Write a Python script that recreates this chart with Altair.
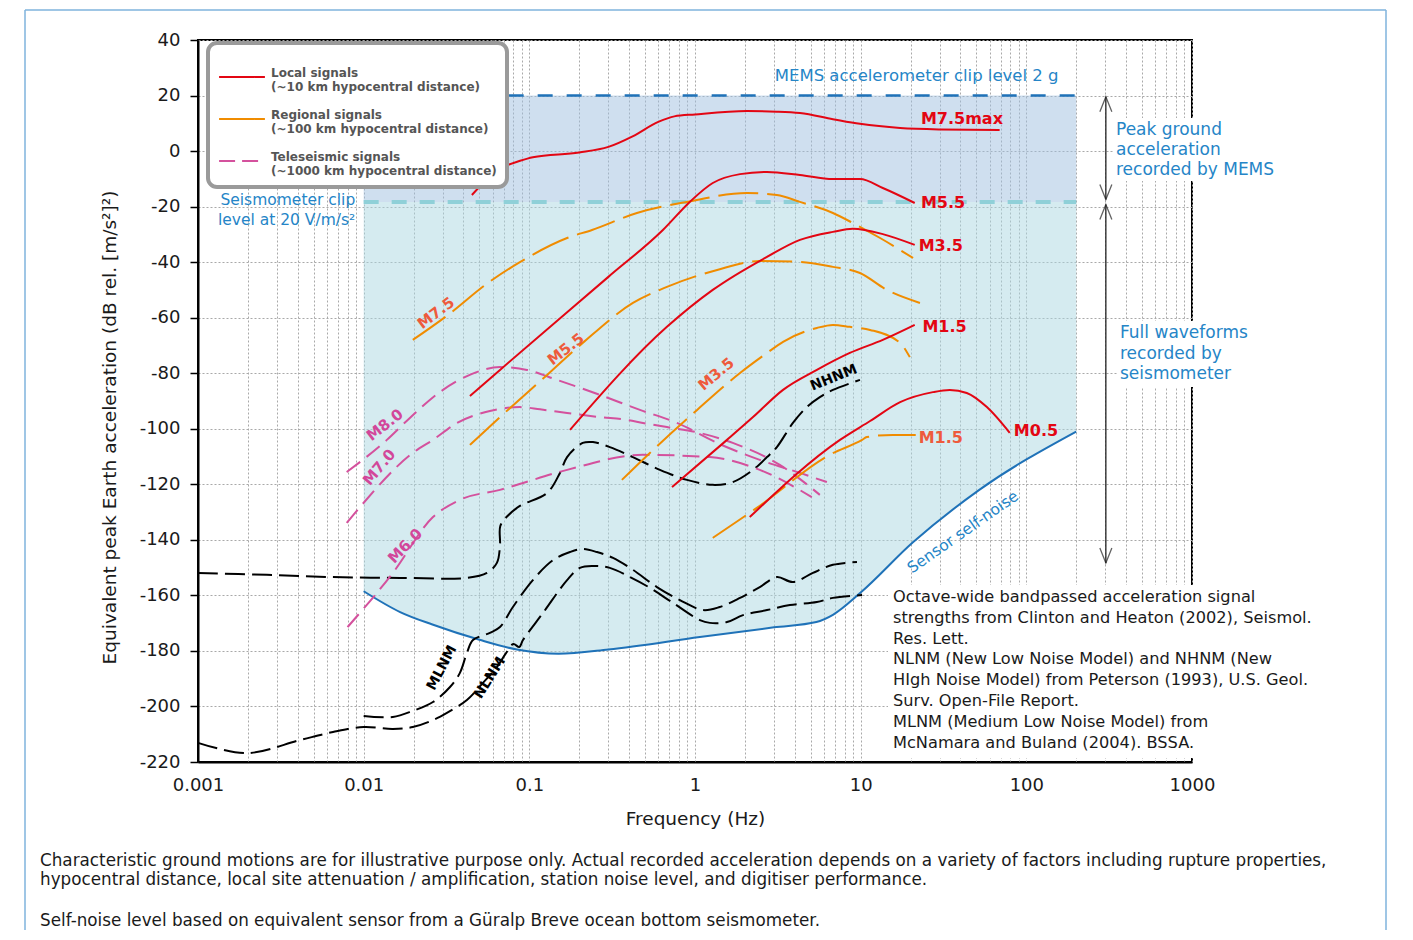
import altair as alt
import pandas as pd

FONT = "DejaVu Sans"

# ---------------- axis ticks ----------------
X_TICKS = [m * 10.0 ** e for e in range(-3, 3) for m in range(1, 10)] + [1000.0]
Y_TICKS = list(range(-220, 41, 10))

# ---------------- reference levels ----------------
BAND_F = [0.01, 200]
MEMS_CLIP_DB = 20
SEIS_CLIP_DB = -18.3

# ---------------- sensor self-noise ----------------
NOISE_F = [0.01, 0.0166, 0.026, 0.05, 0.084, 0.15, 0.3, 1.07, 3.0, 5.4, 6.8, 10, 20.6, 52, 200]
NOISE_DB = [-158.5, -166, -170.5, -176, -179.5, -181, -179.5, -175, -171.5, -169.6, -167, -159, -141, -122, -101]

# ---------------- local signals (~10 km) ----------------
L75_F = [0.045, 0.066, 0.088, 0.105, 0.2, 0.3, 0.42, 0.6, 0.75, 1.0, 2.06, 3.12, 4.3, 6.8, 9.9, 17.3, 30, 69]
L75_DB = [-15.8, -6.5, -3.5, -2.2, -0.5, 1.5, 5.3, 10.5, 12.5, 13.2, 14.4, 14.2, 13.7, 11.5, 9.8, 8.3, 7.8, 7.6]
L55_F = [0.0438, 0.0665, 0.3, 0.64, 0.93, 1.28, 1.87, 2.72, 4.3, 6.8, 9.9, 13.6, 21.2]
L55_DB = [-88.2, -78.8, -45.3, -28.4, -18.3, -11.5, -8.3, -7.5, -8.6, -10.1, -10.1, -13.3, -18.7]
L35_F = [0.176, 0.677, 1.28, 2.72, 4.3, 6.8, 8.97, 13.6, 21.2]
L35_DB = [-100.4, -63.3, -50, -38.1, -32, -29.1, -28, -29.9, -33.8]
L15_F = [0.726, 1.56, 2.24, 3.4, 5.44, 8.6, 13.6, 21.2]
L15_DB = [-121, -104, -95.8, -86, -78.8, -72.7, -68, -62.6]
L05_F = [2.14, 7.5, 11.4, 17.3, 27.3, 34.5, 43.7, 57.8, 79.4]
L05_DB = [-131.8, -104, -97.2, -90.4, -86.8, -86, -87.1, -92.2, -101.5]

# ---------------- regional signals (~100 km) ----------------
R75_F = [0.0198, 0.0323, 0.0562, 0.0877, 0.169, 0.239, 0.446, 0.894, 2.06, 3.12, 4.3, 6.8, 8.97, 13.1, 20.7]
R75_DB = [-68, -59, -47.5, -40, -31.3, -28.4, -22.3, -18.3, -15.1, -15.8, -18.3, -22.3, -25.9, -31.3, -38.5]
R55_F = [0.0438, 0.0665, 0.128, 0.21, 0.422, 0.677, 1.36, 2.46, 4.3, 6.8, 9.9, 14.4, 22.8]
R55_DB = [-105.8, -95.8, -80.6, -69.1, -54.7, -48.9, -42.8, -39.6, -39.9, -41.7, -43.9, -50, -54.7]
R35_F = [0.362, 0.534, 1.03, 1.87, 2.72, 3.4, 5.44, 6.8, 8.6, 11.4, 17.3, 19.8]
R35_DB = [-118.4, -108.7, -93.2, -79.9, -72.7, -68.7, -63.7, -62.6, -63.3, -64.4, -69.1, -74.2]
R15_F = [1.28, 2.36, 6.5, 10.2, 10.9, 15.6, 21.5]
R15_DB = [-139.3, -128.5, -109.4, -104, -103, -102.2, -102.2]

# ---------------- teleseismic signals (~1000 km) ----------------
T80_F = [0.0079, 0.0138, 0.019, 0.0288, 0.0437, 0.0665, 0.0968, 0.147, 0.267, 0.465, 0.778, 1.36, 2.46, 4.3, 6.25]
T80_DB = [-115.6, -104, -96.1, -86.8, -80.6, -77.8, -78.8, -82.4, -87.8, -93.2, -97.9, -105.1, -111.2, -115.9, -119.2]
T70_F = [0.0079, 0.0095, 0.0198, 0.0262, 0.0366, 0.0578, 0.0877, 0.116, 0.169, 0.267, 0.388, 0.485, 0.677, 1.07, 1.69, 3.25, 5.67]
T70_DB = [-133.9, -128.2, -108.7, -104, -97.9, -93.6, -92.2, -93.0, -94.3, -95.8, -96.8, -97.9, -99.4, -101.5, -105.1, -113, -123.8]
T60_F = [0.008, 0.015, 0.0262, 0.0381, 0.0665, 0.169, 0.485, 1.23, 2.46, 5.07]
T60_DB = [-171.4, -151.9, -131.8, -125.6, -122, -114.8, -109.4, -110.2, -114.8, -124.6]

# ---------------- Earth noise models ----------------
NHNM_F = [0.001, 0.0026, 0.0065, 0.0166, 0.042, 0.0555, 0.0637, 0.0665, 0.0668, 0.0733, 0.0877, 0.128, 0.153,
          0.169, 0.21, 0.242, 0.306, 0.422, 0.614, 0.894, 1.28, 1.69, 2.24, 2.72, 3.12, 3.9, 4.73, 5.67, 6.8, 9.9]
NHNM_DB = [-151.9, -152.6, -153.4, -153.7, -153.7, -151.9, -148.3, -142.0, -135.0, -131.6, -127.8, -123.1, -115.9,
           -110.2, -105.1, -104.8, -106.6, -110.2, -114.8, -118.4, -120.2, -119.2, -114.8, -110.2, -106.6, -97.9,
           -92.2, -88.6, -86, -82.4]
MLNM_F = [0.01, 0.015, 0.0198, 0.0262, 0.0332, 0.0381, 0.042, 0.0457, 0.0578, 0.0665, 0.0796, 0.105, 0.139,
          0.176, 0.21, 0.256, 0.32, 0.422, 0.589, 0.811, 1.12, 1.41, 1.87, 2.46, 3.12, 3.9, 5.15, 6.8, 9.5]
MLNM_DB = [-203.4, -203.8, -201.6, -198.4, -193, -187.9, -180.7, -176.1, -173.5, -171.4, -164.2, -154.5, -147.3,
           -144.4, -143.3, -144.4, -146.5, -150.8, -157, -161.7, -165.3, -164.2, -160.9, -157, -153.4, -155.2,
           -151.9, -149, -148]
NLNM_F = [0.001, 0.00198, 0.00413, 0.00653, 0.01, 0.015, 0.0198, 0.0262, 0.0318, 0.042, 0.0525, 0.0637, 0.072,
          0.08, 0.087, 0.0915, 0.121, 0.169, 0.202, 0.242, 0.306, 0.405, 0.535, 0.736, 1.07, 1.23, 1.56, 1.95,
          2.72, 3.74, 5.44, 6.8, 10.2]
NLNM_DB = [-213.1, -216.8, -212.1, -209.2, -207.4, -208.1, -207.4, -204.9, -202.3, -197.7, -191.5, -185.8, -181,
           -177.5, -178.6, -176.1, -166.3, -154.5, -150.1, -149.4, -150.1, -153.4, -157.3, -162.7, -168.9, -169.9,
           -169.6, -167.1, -165.3, -163.5, -162.4, -160.9, -159.9]

# ---------------- legend entries ----------------
GROUPS = ["Local signals|(~10 km hypocentral distance)",
          "Regional signals|(~100 km hypocentral distance)",
          "Teleseismic signals|(~1000 km hypocentral distance)"]

# ---------------- arrows (dB ranges) ----------------
ARROW_F = 302
ARROW_PGA = [19.6, -17.4]
ARROW_FULL = [-19.2, -148.3]

RED = "#e30613"
ORANGE = "#f08c00"
PINK = "#d4519d"
CORAL = "#ee5a3c"
MAGENTA_T = "#d2479a"
BLUE_T = "#2585c7"
BLUE_L = "#1f72b8"
CYAN = "#8fd0d8"

ONE = pd.DataFrame({"k": [0]})

XS = alt.Scale(type="log", domain=[0.001, 1000], nice=False)
YS = alt.Scale(domain=[-220, 40], nice=False, zero=False)
XAX = alt.Axis(
    values=X_TICKS,
    labelExpr="abs(log(datum.value)/LN10 - round(log(datum.value)/LN10)) < 0.001 ? "
              "(datum.value < 1 ? format(datum.value, '.3~f') : format(datum.value, 'd')) : ''",
    labelOverlap=False, labelFlush=False, ticks=False, labelPadding=14, titlePadding=15,
)
YAX = alt.Axis(
    values=Y_TICKS,
    labelExpr="datum.value % 20 == 0 ? '' + datum.value : ''",
    labelOverlap=False, tickSize=8, labelPadding=10, titlePadding=20, titleY=387,
)
XT = "Frequency (Hz)"
YT = "Equivalent peak Earth acceleration (dB rel. [m/s²]²)"


def X(field):
    return alt.X(field, type="quantitative", scale=XS, axis=XAX, title=XT)


def Y(field):
    return alt.Y(field, type="quantitative", scale=YS, axis=YAX, title=YT)


def curves(pairs):
    frames = []
    for name, f, db in pairs:
        frames.append(pd.DataFrame({"f": f, "db": db, "curve": name, "i": list(range(len(f)))}))
    return pd.concat(frames, ignore_index=True)


def line_layer(df, color, dash=None, width=2, interp="monotone"):
    kw = dict(color=color, strokeWidth=width, interpolate=interp)
    if dash:
        kw["strokeDash"] = dash
    return alt.Chart(df).mark_line(**kw).encode(
        x=X("f"), y=Y("db"), detail="curve:N", order="i:Q")


def note(text, f, db, color, size, weight="normal", angle=0, align="left", baseline="middle", lh=None):
    kw = dict(text=text, color=color, font=FONT, fontSize=size, fontWeight=weight, align=align, baseline=baseline)
    if angle:
        kw["angle"] = angle
    if lh:
        kw["lineHeight"] = lh
    return alt.Chart(ONE).mark_text(**kw).encode(x=alt.datum(f), y=alt.datum(db))


def note_px(text, x, y, color, size, weight="normal", align="left", baseline="alphabetic", lh=None):
    kw = dict(text=text, color=color, font=FONT, fontSize=size, fontWeight=weight, align=align, baseline=baseline)
    if lh:
        kw["lineHeight"] = lh
    return alt.Chart(ONE).mark_text(**kw).encode(x=alt.value(x), y=alt.value(y))


def box_px(x1, x2, y1, y2):
    return alt.Chart(ONE).mark_rect(color="white").encode(
        x=alt.value(x1), x2=alt.value(x2), y=alt.value(y1), y2=alt.value(y2))


layers = []

# shaded recording bands
band_df = pd.DataFrame({"f1": [BAND_F[0]], "f2": [BAND_F[1]], "lo": [SEIS_CLIP_DB], "hi": [MEMS_CLIP_DB]})
layers.append(alt.Chart(band_df).mark_rect(color="#9fbfe0", opacity=0.5).encode(
    x=X("f1"), x2="f2", y=Y("lo"), y2="hi"))
noise_df = pd.DataFrame({"f": NOISE_F, "db": NOISE_DB, "top": SEIS_CLIP_DB})
layers.append(alt.Chart(noise_df).mark_area(color="#abd7e1", opacity=0.5, interpolate="monotone").encode(
    x=X("f"), y=Y("db"), y2="top"))

# clip levels
clip_df = pd.DataFrame({"f1": [BAND_F[0]], "f2": [BAND_F[1]], "mems": [MEMS_CLIP_DB], "seis": [SEIS_CLIP_DB]})
layers.append(alt.Chart(clip_df).mark_rule(color=CYAN, strokeWidth=4, strokeDash=[15, 13]).encode(
    x=X("f1"), x2="f2", y=Y("seis")))
layers.append(alt.Chart(clip_df).mark_rule(color=BLUE_L, strokeWidth=2.5, strokeDash=[15, 14]).encode(
    x=X("f1"), x2="f2", y=Y("mems")))

# self-noise line
layers.append(line_layer(curves([("noise", NOISE_F, NOISE_DB)]), BLUE_L, width=2))

# Earth noise models
layers.append(line_layer(curves([("NHNM", NHNM_F, NHNM_DB), ("MLNM", MLNM_F, MLNM_DB), ("NLNM", NLNM_F, NLNM_DB)]),
                         "black", dash=[20, 7], width=2, interp="catmull-rom"))

# teleseismic
layers.append(line_layer(curves([("T80", T80_F, T80_DB), ("T70", T70_F, T70_DB), ("T60", T60_F, T60_DB)]),
                         PINK, dash=[17, 8], width=2))
# regional
layers.append(line_layer(curves([("R75", R75_F, R75_DB), ("R55", R55_F, R55_DB), ("R35", R35_F, R35_DB),
                                 ("R15", R15_F, R15_DB)]), ORANGE, dash=[40, 9], width=2))
# local
layers.append(line_layer(curves([("L75", L75_F, L75_DB), ("L55", L55_F, L55_DB), ("L35", L35_F, L35_DB),
                                 ("L15", L15_F, L15_DB), ("L05", L05_F, L05_DB)]), RED, width=2))

# arrows on the right
arrow_df = pd.DataFrame({"f": [ARROW_F, ARROW_F], "a": [ARROW_PGA[0], ARROW_FULL[0]], "b": [ARROW_PGA[1], ARROW_FULL[1]]})
layers.append(alt.Chart(arrow_df).mark_rule(color="#222", strokeWidth=1.3).encode(x=X("f"), y=Y("a"), y2="b"))
layers.append(alt.Chart(arrow_df).mark_point(shape="M-0.4,1L0,0L0.4,1", size=900, filled=False, color="#222",
                                             strokeWidth=1.3).encode(x=X("f"), y=Y("a")))
layers.append(alt.Chart(arrow_df).mark_point(shape="M-0.4,-1L0,0L0.4,-1", size=900, filled=False, color="#222",
                                             strokeWidth=1.3).encode(x=X("f"), y=Y("b")))

# white boxes behind side texts
layers.append(box_px(915, 1084, 78, 141))
layers.append(box_px(919, 1050, 281, 347))
layers.append(box_px(690, 1125, 545, 718))

# curve labels
layers += [
    note("M7.5max", 23.1, 9.8, RED, 16, "bold", baseline="alphabetic"),
    note("M5.5", 23.1, -20.5, RED, 16, "bold", baseline="alphabetic"),
    note("M3.5", 22.4, -36, RED, 16, "bold", baseline="alphabetic"),
    note("M1.5", 23.6, -65.1, RED, 16, "bold", baseline="alphabetic"),
    note("M0.5", 84.1, -102.6, RED, 16, "bold", baseline="alphabetic"),
    note("M1.5", 22.4, -105.1, CORAL, 16, "bold", baseline="alphabetic"),
    note("M7.5", 0.0273, -58.3, CORAL, 15, "bold", angle=323, align="center"),
    note("M5.5", 0.166, -71.3, CORAL, 15, "bold", angle=322, align="center"),
    note("M3.5", 1.34, -80.3, CORAL, 15, "bold", angle=320, align="center"),
    note("M8.0", 0.0134, -98.6, MAGENTA_T, 15, "bold", angle=322, align="center"),
    note("M7.0", 0.0124, -113.8, MAGENTA_T, 15, "bold", angle=310, align="center"),
    note("M6.0", 0.0178, -142.2, MAGENTA_T, 15, "bold", angle=314, align="center"),
    note("NHNM", 6.89, -81.7, "black", 14, "bold", angle=338, align="center"),
    note("MLNM", 0.0297, -186.1, "black", 14, "bold", angle=298, align="center"),
    note("NLNM", 0.0578, -189.7, "black", 14, "bold", angle=302, align="center"),
    note("Sensor self-noise", 41.4, -137.2, BLUE_T, 15.5, angle=325, align="center"),
    note("MEMS accelerometer clip level 2 g", 3.03, 25.2, BLUE_T, 16.5, baseline="alphabetic"),
    note(["Seismometer clip", "level at 20 V/m/s²"], 0.0089, -19.4, BLUE_T, 15.5, align="right",
         baseline="alphabetic", lh=20),
]

# side texts (pixel positions relative to the plot area)
layers += [
    note_px(["Peak ground", "acceleration", "recorded by MEMS"], 918, 95, BLUE_T, 17, lh=20),
    note_px(["Full waveforms", "recorded by", "seismometer"], 922, 298, BLUE_T, 17, lh=20.5),
    note_px(["Octave-wide bandpassed acceleration signal",
             "strengths from Clinton and Heaton (2002), Seismol.",
             "Res. Lett.",
             "NLNM (New Low Noise Model) and NHNM (New",
             "HIgh Noise Model) from Peterson (1993), U.S. Geol.",
             "Surv. Open-File Report.",
             "MLNM (Medium Low Noise Model) from",
             "McNamara and Buland (2004). BSSA."], 695, 562, "#1a1a1a", 16.2, lh=20.8),
    note_px(["Characteristic ground motions are for illustrative purpose only. Actual recorded acceleration depends "
             "on a variety of factors including rupture properties,",
             "hypocentral distance, local site attenuation / amplification, station noise level, and digitiser "
             "performance."], -158, 826, "#1a1a1a", 16.8, lh=19),
    note_px("Self-noise level based on equivalent sensor from a Güralp Breve ocean bottom seismometer.",
            -158, 886, "#1a1a1a", 16.8),
]

# outer frame
FRAME = "#7fb3dc"
layers += [
    alt.Chart(ONE).mark_rule(color=FRAME, strokeWidth=1.5).encode(x=alt.value(-173), y=alt.value(-30), y2=alt.value(950)),
    alt.Chart(ONE).mark_rule(color=FRAME, strokeWidth=1.5).encode(x=alt.value(1188), y=alt.value(-30), y2=alt.value(950)),
    alt.Chart(ONE).mark_rule(color=FRAME, strokeWidth=1.5).encode(x=alt.value(-173), x2=alt.value(1188), y=alt.value(-30)),
]

# legend carrier
LEG = alt.Legend(title=None, orient="none", legendX=10, legendY=3, labelExpr="split(datum.label, '|')",
                 fillColor="white", strokeColor="#9a9a9a", cornerRadius=9, padding=10,
                 symbolType="stroke", symbolSize=2100, symbolStrokeWidth=2,
                 labelFont=FONT, labelFontSize=12, labelFontWeight="bold", labelColor="#555555",
                 labelLimit=600, labelBaseline="alphabetic", rowPadding=2, labelOffset=5, zindex=1)
leg_df = pd.DataFrame({"group": GROUPS, "f": [0.0015] * 3, "db": [30] * 3})
layers.append(alt.Chart(leg_df).mark_line(strokeWidth=2).encode(
    x=X("f"), y=Y("db"),
    color=alt.Color("group:N", scale=alt.Scale(domain=GROUPS, range=[RED, ORANGE, PINK]), legend=LEG),
    strokeDash=alt.StrokeDash("group:N", scale=alt.Scale(domain=GROUPS, range=[[1, 0], [1, 0], [16, 7]]), legend=LEG),
))

chart = alt.layer(*layers).properties(
    width=994, height=722,
    autosize=alt.AutoSizeParams(type="none"),
    padding={"left": 190, "top": 32, "right": 212, "bottom": 168},
).configure_view(
    stroke="black", strokeWidth=2
).configure_axis(
    labelFont=FONT, labelFontSize=18, labelColor="#1a1a1a",
    titleFont=FONT, titleFontSize=18.5, titleFontWeight="normal", titleColor="#1a1a1a",
    gridColor="#a9a9a9", gridDash=[2, 2], gridWidth=1,
    domainColor="black", domainWidth=2, tickColor="black", tickWidth=1.5,
).configure_legend(
    strokeWidth=4
)

chart.save("out.html", embed_options={"renderer": "svg", "actions": False})
